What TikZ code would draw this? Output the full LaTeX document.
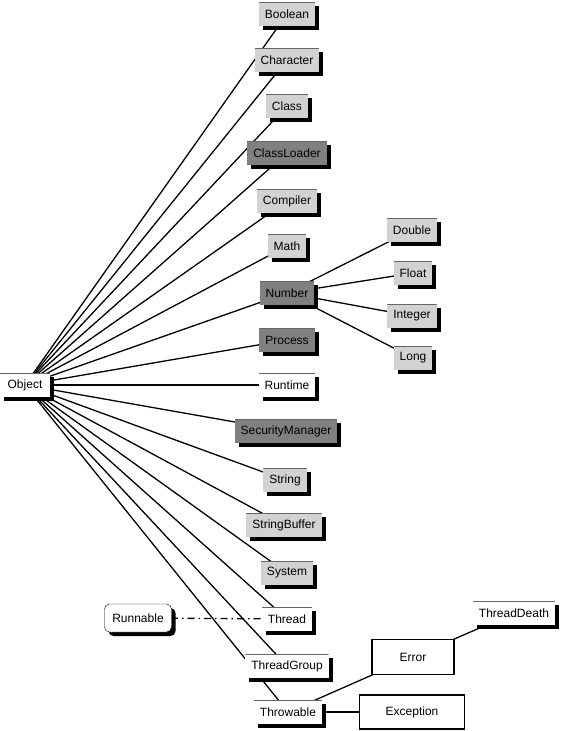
\documentclass[tikz,border=0pt]{standalone}
\usepackage{fontspec}
\setmainfont{Liberation Sans}
\usetikzlibrary{shadows,backgrounds}

\begin{document}
\begin{tikzpicture}[x=1pt,y=-1pt,
	box/.style={inner xsep=6pt,inner ysep=0pt,minimum height=24pt,font=\fontsize{12}{14}\selectfont,
		drop shadow={shadow xshift=4pt,shadow yshift=-4pt,fill=black,opacity=1},
		path picture={\draw[line width=1.6pt,gray!80!black] (path picture bounding box.north west) -- (path picture bounding box.north east);}},
	light/.style={box,fill=gray!35},
	dark/.style={box,fill=gray},
	plain/.style={box,fill=white},
	frame/.style={draw,line width=1.8pt,fill=white,font=\fontsize{12}{14}\selectfont},
	link/.style={line width=1.3pt}]
			\useasboundingbox (0,0) rectangle (561,731);
			
			% root
			\node[plain,minimum width=50pt] (obj) at (25,385) {Object};
			
			% direct subclasses
			\node[light] (bool) at (287,14) {Boolean};
			\node[light] (char) at (287,60) {Character};
			\node[light] (cls) at (287,106) {Class};
			\node[dark] (loader) at (287,153) {ClassLoader};
			\node[light] (comp) at (287,201) {Compiler};
			\node[light] (math) at (287,246) {Math};
			\node[dark] (num) at (287,293) {Number};
			\node[dark] (proc) at (287,340) {Process};
			\node[plain] (rt) at (287,385) {Runtime};
			\node[dark] (secm) at (286,431) {SecurityManager};
			\node[light] (str) at (285,480) {String};
			\node[light] (strbuf) at (284,525) {StringBuffer};
			\node[light] (sys) at (287,573) {System};
			\node[plain] (thr) at (287,619) {Thread};
			\node[plain] (thrgrp) at (287,666) {ThreadGroup};
			\node[plain] (throw) at (288,712) {Throwable};
			
			% Number
			\node[light] (dbl) at (412,230) {Double};
			\node[light] (flt) at (413,273) {Float};
			\node[light] (int) at (412,316) {Integer};
			\node[light] (lng) at (413,358) {Long};
			
			% Throwable
			\node[frame,minimum width=82pt,minimum height=35pt] (err) at (413,657) {Error};
			\node[frame,minimum width=105pt,minimum height=34pt] (exc) at (412,712) {Exception};
			\node[plain] (death) at (514,613) {ThreadDeath};
			
			% interface
			\node[plain,draw,thin,rounded corners=5pt,minimum width=67pt,minimum height=28pt,path picture={}] (run) at (138,618) {Runnable};
			
			\begin{scope}[on background layer]
				\foreach \n in {bool,char,cls,loader,comp,math,num,proc,rt,secm,str,strbuf,sys,thr,thrgrp,throw}
					\draw[link] (obj.center) -- (\n.center);
				\foreach \n in {dbl,flt,int,lng}
					\draw[link] (num.center) -- (\n.center);
				\draw[link] (throw.center) -- (err.center);
				\draw[link] (throw.center) -- (exc.center);
				\draw[link] (err.center) -- (death.center);
				\draw[link,dash pattern=on 7pt off 4pt on 1.5pt off 4pt] (run.center) -- (thr.center);
			\end{scope}

		\end{tikzpicture}
\end{document}
